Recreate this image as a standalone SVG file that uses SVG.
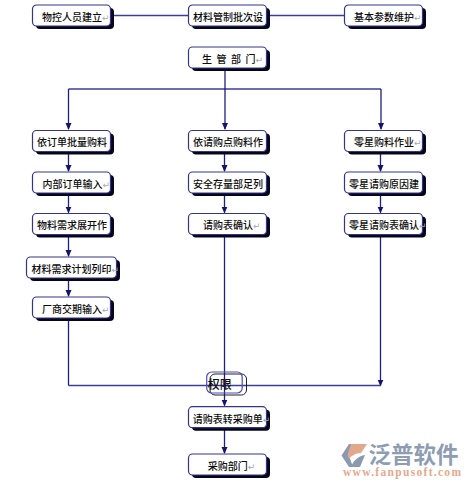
<svg xmlns="http://www.w3.org/2000/svg" width="471" height="488" viewBox="0 0 471 488">
<style>
.box{fill:#fff;stroke:#34348c;stroke-width:1.2}
.sh{fill:#06061a;transform:translateX(0.5px)}
.c{fill:none;stroke:#1e1e7c;stroke-width:1.3}
.h{fill:none;stroke:#3c3c9c;stroke-width:1.3}
text{font-family:"Noto Sans CJK SC","DejaVu Sans",sans-serif;font-size:10px;font-weight:500;fill:#0c0c0c}
.rt{fill:#a8a8b0;font-family:"DejaVu Sans",sans-serif;font-size:9px;font-weight:400}
</style>
<defs>
<marker id="ad" markerUnits="userSpaceOnUse" markerWidth="7" markerHeight="7" refX="6" refY="3.5" orient="auto" viewBox="0 0 7 7"><path d="M0 0.500L7 3.500L0 6.500Z" fill="#14146e"/></marker>
</defs>
<rect width="471" height="488" fill="#fff"/>
<g id="connectors">
<path class="h" d="M110 15.500H188.500M268 15.500H344"/>
<path class="h" d="M68.500 89H381"/>
<path class="c" d="M225 68V129" marker-end="url(#ad)"/>
<path class="c" d="M68.500 89V129" marker-end="url(#ad)"/>
<path class="c" d="M381 89V129" marker-end="url(#ad)"/>
<path class="c" d="M68.500 152V171" marker-end="url(#ad)"/>
<path class="c" d="M68.500 193V212.500" marker-end="url(#ad)"/>
<path class="c" d="M68.500 235V256" marker-end="url(#ad)"/>
<path class="c" d="M68.500 278V296" marker-end="url(#ad)"/>
<path class="c" d="M224.500 152V171" marker-end="url(#ad)"/>
<path class="c" d="M224.500 193V212.500" marker-end="url(#ad)"/>
<path class="c" d="M380.500 152V171" marker-end="url(#ad)"/>
<path class="c" d="M380.500 193V212.500" marker-end="url(#ad)"/>
<path class="c" d="M380.500 235V385.500" marker-end="url(#ad)"/>
<path class="c" d="M68.500 318V385.500"/>
<path class="h" d="M68.500 385.500H380.500"/>
<path class="c" d="M224.500 235V405.500" marker-end="url(#ad)"/>
<path class="c" d="M224.500 428V453" marker-end="url(#ad)"/>
</g>
<g id="n1"><rect class="sh" x="35.500" y="8" width="78" height="21" rx="4"/><rect class="box" x="32.500" y="5" width="78" height="21" rx="4"/><text x="42" y="20.500">物控人员建立<tspan class="rt">↵</tspan></text></g>
<g id="n2"><rect class="sh" x="191.500" y="8" width="78" height="21" rx="4"/><rect class="box" x="188.500" y="5" width="78" height="21" rx="4"/><text x="193" y="20.500">材料管制批次设</text></g>
<g id="n3"><rect class="sh" x="347.500" y="8" width="78" height="21" rx="4"/><rect class="box" x="344.500" y="5" width="78" height="21" rx="4"/><text x="354" y="20.500">基本参数维护<tspan class="rt">↵</tspan></text></g>
<g id="n4"><rect class="sh" x="191.500" y="50" width="78" height="21" rx="4"/><rect class="box" x="188.500" y="47" width="78" height="21" rx="4"/><text x="202" y="62.500"><tspan letter-spacing="4.500">生管部</tspan>门<tspan class="rt">↵</tspan></text></g>
<g id="n5"><rect class="sh" x="35.500" y="133.500" width="78" height="21" rx="4"/><rect class="box" x="32.500" y="130.500" width="78" height="21" rx="4"/><text x="37" y="146">依订单批量购料</text></g>
<g id="n6"><rect class="sh" x="191.500" y="133.500" width="78" height="21" rx="4"/><rect class="box" x="188.500" y="130.500" width="78" height="21" rx="4"/><text x="193" y="146">依请购点购料作</text></g>
<g id="n7"><rect class="sh" x="347.500" y="133.500" width="78" height="21" rx="4"/><rect class="box" x="344.500" y="130.500" width="78" height="21" rx="4"/><text x="354" y="146">零星购料作业<tspan class="rt">↵</tspan></text></g>
<g id="n8"><rect class="sh" x="35.500" y="175" width="78" height="21" rx="4"/><rect class="box" x="32.500" y="172" width="78" height="21" rx="4"/><text x="42.500" y="187.500">内部订单输入<tspan class="rt">↵</tspan></text></g>
<g id="n9"><rect class="sh" x="191.500" y="175" width="78" height="21" rx="4"/><rect class="box" x="188.500" y="172" width="78" height="21" rx="4"/><text x="193" y="187.500">安全存量部足列</text></g>
<g id="n10"><rect class="sh" x="347.500" y="175" width="78" height="21" rx="4"/><rect class="box" x="344.500" y="172" width="78" height="21" rx="4"/><text x="349" y="187.500">零星请购原因建</text></g>
<g id="n11"><rect class="sh" x="35.500" y="216.500" width="78" height="21" rx="4"/><rect class="box" x="32.500" y="213.500" width="78" height="21" rx="4"/><text x="37" y="229">物料需求展开作</text></g>
<g id="n12"><rect class="sh" x="191.500" y="216.500" width="78" height="21" rx="4"/><rect class="box" x="188.500" y="213.500" width="78" height="21" rx="4"/><text x="203" y="229">请购表确认<tspan class="rt">↵</tspan></text></g>
<g id="n13"><rect class="sh" x="347.500" y="216.500" width="78" height="21" rx="4"/><rect class="box" x="344.500" y="213.500" width="78" height="21" rx="4"/><text x="349" y="229">零星请购表确认<tspan class="rt">↵</tspan></text></g>
<g id="n14"><rect class="sh" x="29.500" y="260" width="90" height="21" rx="4"/><rect class="box" x="26.500" y="257" width="90" height="21" rx="4"/><text x="31.500" y="272.500">材料需求计划列印<tspan class="rt">↵</tspan></text></g>
<g id="n15"><rect class="sh" x="35.500" y="300" width="78" height="21" rx="4"/><rect class="box" x="32.500" y="297" width="78" height="21" rx="4"/><text x="42" y="312.500">厂商交期输入<tspan class="rt">↵</tspan></text></g>
<g id="n16"><rect x="210" y="374" width="36.500" height="21" rx="5" fill="none" stroke="#222" stroke-width="1"/><rect x="206.700" y="372" width="35.500" height="21" rx="5" fill="none" stroke="#4a4ac0" stroke-width="1.200"/><text x="207.700" y="389" style="font-size:12px">权限</text></g>
<g id="n17"><rect class="sh" x="191.500" y="409.700" width="78" height="21" rx="4"/><rect class="box" x="188.500" y="406.700" width="78" height="21" rx="4"/><text x="192.700" y="422.500">请购表转采购单<tspan class="rt">↵</tspan></text></g>
<g id="n18"><rect class="sh" x="191.500" y="457" width="78" height="21" rx="4"/><rect class="box" x="188.500" y="454" width="78" height="21" rx="4"/><text x="207.700" y="469.500">采购部门<tspan class="rt">↵</tspan></text></g>
<g id="logo">
<path d="M341.500 455.500L349 444H357L349 456L353 467H349Z" fill="#8b99b0"/>
<path d="M351 444H367L361 453C356 453 351 456 349 459L347.500 455Z" fill="#e2a88c"/>
<path d="M351 467C353 461 358 456 365 455L360 467Z" fill="#8b99b0"/>
<text x="368.500" y="463" style="font-size:22.500px;font-weight:700;fill:#8f9db2">泛普软件</text>
<text x="343" y="476" style="font-family:'Liberation Serif',serif;font-size:11.500px;font-weight:700;fill:#e5a98c" textLength="118">www.fanpusoft.com</text>
</g>
</svg>
